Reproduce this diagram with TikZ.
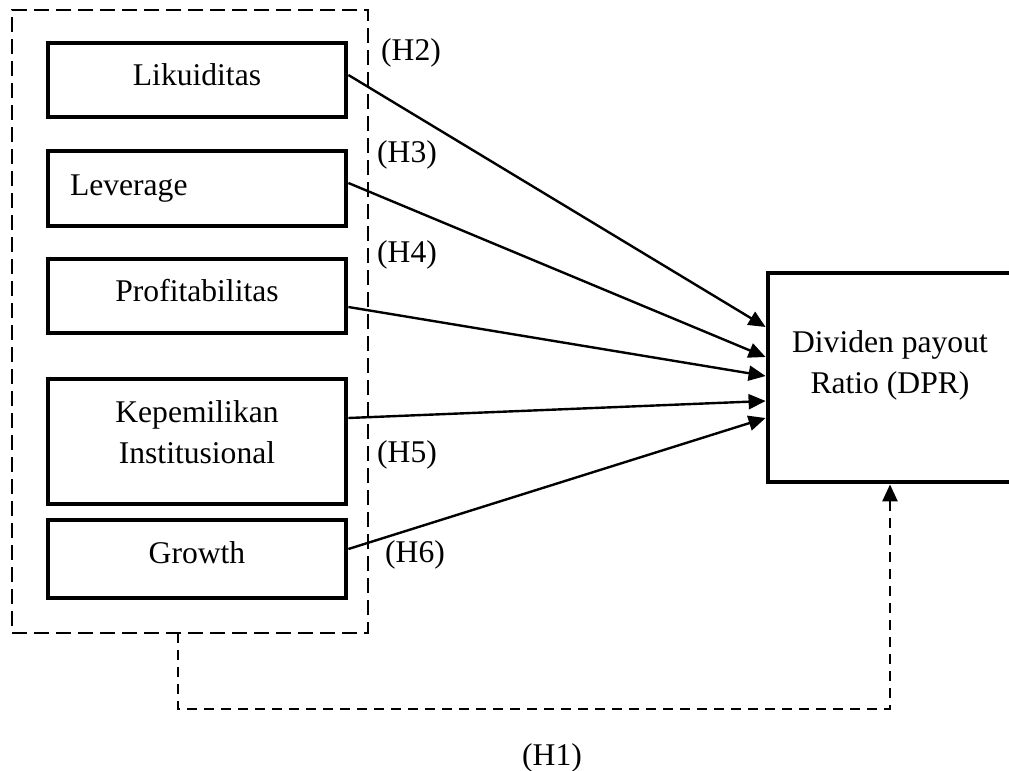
\documentclass[tikz,border=0pt]{standalone}
\usepackage{fontspec}
\setmainfont{Liberation Serif}
\usetikzlibrary{arrows.meta}

\begin{document}
\begin{tikzpicture}[
        x=0.5pt, y=-0.5pt,
        every node/.style={font=\fontsize{15.8}{20.5}\selectfont},
        varbox/.style={draw, line width=2.4pt, minimum width=149pt, align=center, inner sep=0pt},
        groupbox/.style={draw, line width=1.2pt, dash pattern=on 7.5pt off 3.5pt,
                minimum width=178pt, minimum height=311.5pt, inner sep=0pt},
        hyp/.style={-{Triangle[length=8.5pt,width=7.5pt]}, line width=1.2pt},
        overall/.style={-{Triangle[length=8.5pt,width=7.5pt]}, line width=1.2pt,
                dash pattern=on 5pt off 3.5pt}
    ]
    \clip (0,0) rectangle (1009,771);

    \node[groupbox] (group) at (190,321.5) {};

    \node[varbox, minimum height=37pt, text depth=5pt] (lik) at (197,80) {Likuiditas};
    \node[varbox, minimum height=37.5pt, text width=127pt, inner xsep=11pt, align=left] (lev) at (197,188.5) {Leverage};
    \node[varbox, minimum height=37pt, text depth=6pt] (prof) at (197,296) {Profitabilitas};
    \node[varbox, minimum height=62.5pt, text depth=9pt] (kep) at (197,441.5) {Kepemilikan\\Institusional};
    \node[varbox, minimum height=39pt, text depth=6pt] (gro) at (197,559) {Growth};

    \node[varbox, minimum width=122pt, minimum height=104.5pt, text depth=15pt] (dpr) at (890,377.5) {Dividen payout\\Ratio (DPR)};

    \draw[hyp] ([yshift=2.5pt]lik.east) -- ([yshift=25.25pt]dpr.west);
    \draw[hyp] ([yshift=2.75pt]lev.east) -- ([yshift=10.25pt]dpr.west);
    \draw[hyp] ([yshift=-5.5pt]prof.east) -- ([yshift=0.75pt]dpr.west);
    \draw[hyp] ([yshift=11.75pt]kep.east) -- ([yshift=-11.75pt]dpr.west);
    \draw[hyp] ([yshift=5pt]gro.east) -- ([yshift=-20.25pt]dpr.west);

    \node (h2) at (411,53) {(H2)};
    \node (h3) at (407,155) {(H3)};
    \node (h4) at (407,255) {(H4)};
    \node (h5) at (407,455) {(H5)};
    \node (h6) at (415,555) {(H6)};

    \coordinate (gbot) at (178,633);
    \coordinate (gturn) at (178,709);
    \draw[overall] (gbot) -- (gturn) -| (dpr.south);
    \node (h1) at (552,758) {(H1)};

\end{tikzpicture}
\end{document}
